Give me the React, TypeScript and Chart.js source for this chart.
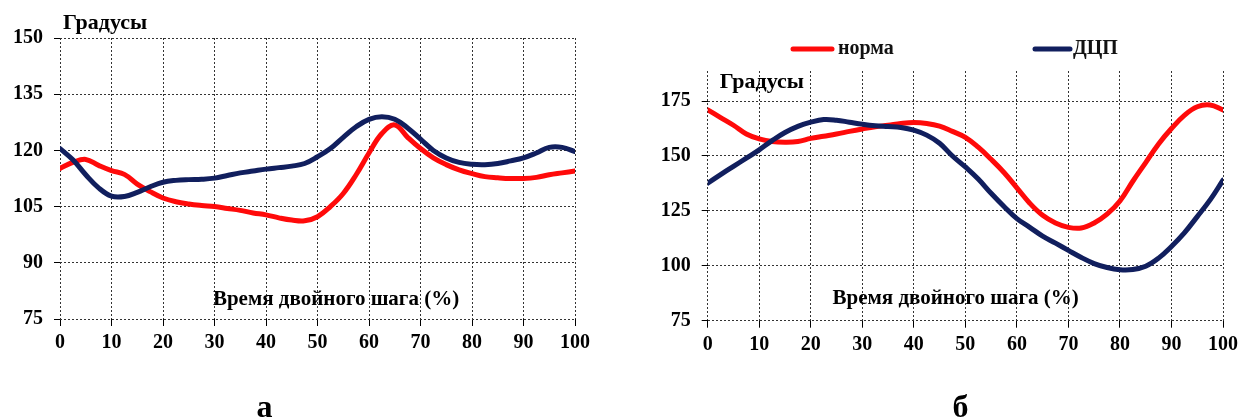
import React, { useEffect, useRef } from "react";
import { Chart, registerables } from "chart.js";

Chart.register(...registerables);

// ---------- data ----------
const xPercent = [
  0, 2.5, 5, 7.5, 10, 12.5, 15, 17.5, 20, 22.5, 25, 27.5, 30, 32.5, 35, 37.5, 40, 42.5, 45, 47.5,
  50, 52.5, 55, 57.5, 60, 62.5, 65, 67.5, 70, 72.5, 75, 77.5, 80, 82.5, 85, 87.5, 90, 92.5, 95, 97.5, 100,
];

// panel а
const normaA = [
  115.2, 116.8, 117.6, 116.0, 114.6, 113.6, 111.0, 109.0, 107.3, 106.3, 105.7, 105.3, 105.0, 104.5, 104.0,
  103.3, 102.8, 102.0, 101.4, 101.2, 102.3, 105.0, 108.5, 113.5, 119.3, 124.5, 126.8, 123.5, 120.5, 118.0,
  116.2, 114.8, 113.8, 113.0, 112.7, 112.5, 112.5, 112.8, 113.5, 114.0, 114.5,
];
const dcpA = [
  120.5, 117.5, 113.5, 110.0, 107.8, 107.7, 108.8, 110.3, 111.5, 112.0, 112.2, 112.3, 112.6, 113.3, 114.0,
  114.5, 115.0, 115.4, 115.8, 116.5, 118.3, 120.5, 123.5, 126.3, 128.3, 129.0, 128.3, 126.0, 123.0, 120.0,
  118.0, 116.8, 116.3, 116.2, 116.5, 117.2, 118.0, 119.3, 120.8, 120.8, 119.7,
];

// panel б
const normaB = [
  171.0, 167.5, 164.0, 160.0, 157.8, 156.6, 156.3, 156.6, 158.0, 159.0, 160.0, 161.2, 162.3, 163.3, 164.0,
  164.8, 165.2, 164.8, 163.6, 161.2, 158.5, 154.0, 148.5, 142.5, 135.5, 128.5, 123.0, 119.5, 117.5, 117.2,
  119.5, 123.5, 129.5, 138.5, 147.0, 155.5, 162.5, 168.5, 172.4, 173.2, 171.0,
];
const dcpB = [
  137.6, 141.5, 145.3, 149.0, 152.8, 157.0, 160.7, 163.5, 165.4, 166.6, 166.3, 165.4, 164.5, 163.8, 163.4,
  163.0, 161.8, 159.5, 155.8, 150.0, 145.0, 139.5, 133.0, 127.0, 121.5, 117.5, 113.5, 110.3, 107.0, 103.8,
  101.0, 99.2, 98.2, 98.3, 99.8, 103.5, 108.8, 115.0, 122.4, 130.0, 139.0,
];

const xTicks = [0, 10, 20, 30, 40, 50, 60, 70, 80, 90, 100];
const yTicksA = [75, 90, 105, 120, 135, 150];
const yTicksB = [75, 100, 125, 150, 175];

const seriesLabels = ["норма", "ДЦП"];
const yAxisTitle = "Градусы";
const xAxisTitle = "Время двойного шага (%)";
const panelLabels = ["а", "б"];

// ---------- styling ----------
const RED = "#ff0a0a";
const BLUE = "#111f5e";
const FONT = "'Liberation Serif', 'Times New Roman', serif";

const textPlugin = {
  id: "panelText",
  afterDraw(chart: any, _args: any, opts: any) {
    const ctx = chart.ctx;
    const area = chart.chartArea;
    const xs = chart.scales.x;
    const ys = chart.scales.y;
    ctx.save();
    ctx.fillStyle = "#000";
    for (const t of opts.items || []) {
      ctx.font = t.font;
      ctx.textAlign = t.align || "left";
      ctx.textBaseline = t.baseline || "middle";
      let px: number, py: number;
      if (t.dataX !== undefined) {
        px = xs.getPixelForValue(t.dataX);
        py = ys.getPixelForValue(t.dataY);
      } else if (t.relLeft !== undefined) {
        px = area.left + t.relLeft;
        py = area.top + t.relTop;
      } else {
        px = t.px;
        py = t.py;
      }
      ctx.fillText(t.text, px, py);
    }
    if (opts.legend) {
      const lg = opts.legend;
      chart.data.datasets.forEach((ds: any, i: number) => {
        const x0 = lg.xs[i];
        const len = lg.lineLens[i];
        ctx.strokeStyle = ds.borderColor;
        ctx.lineWidth = 5;
        ctx.lineCap = "round";
        ctx.beginPath();
        ctx.moveTo(x0, lg.y);
        ctx.lineTo(x0 + len, lg.y);
        ctx.stroke();
        ctx.font = lg.font;
        ctx.textAlign = "left";
        ctx.textBaseline = "middle";
        ctx.fillStyle = "#111";
        ctx.fillText(ds.label, x0 + len + lg.gaps[i], lg.y);
      });
    }
    ctx.restore();
  },
};

function makeConfig(panel: "a" | "b"): any {
  const isA = panel === "a";
  const norma = isA ? normaA : normaB;
  const dcp = isA ? dcpA : dcpB;
  const yTicks = isA ? yTicksA : yTicksB;
  const tickFont = { family: FONT, weight: "bold", size: 20 };
  const items: any[] = [
    isA
      ? { text: yAxisTitle, font: `bold 22px ${FONT}`, relLeft: 3, relTop: -15 }
      : { text: yAxisTitle, font: `bold 22px ${FONT}`, relLeft: 12, relTop: 11 },
    isA
      ? { text: xAxisTitle, font: `bold 21px ${FONT}`, align: "center", dataX: 53.6, dataY: 80.3 }
      : { text: xAxisTitle, font: `bold 21px ${FONT}`, align: "center", dataX: 48.1, dataY: 85.3 },
    isA
      ? { text: panelLabels[0], font: `bold 32px ${FONT}`, align: "center", baseline: "alphabetic", px: 264.5, py: 417 }
      : { text: panelLabels[1], font: `bold 32px ${FONT}`, align: "center", baseline: "alphabetic", px: 340.5, py: 417 },
  ];
  return {
    type: "line",
    data: {
      datasets: [
        {
          label: seriesLabels[0],
          data: xPercent.map((x, i) => ({ x, y: norma[i] })),
          borderColor: RED,
          borderWidth: 5,
          pointRadius: 0,
          tension: 0.4,
          fill: false,
          order: 1,
          borderCapStyle: "round",
          borderJoinStyle: "round",
        },
        {
          label: seriesLabels[1],
          data: xPercent.map((x, i) => ({ x, y: dcp[i] })),
          borderColor: BLUE,
          borderWidth: 5,
          pointRadius: 0,
          tension: 0.4,
          fill: false,
          order: 0,
          borderCapStyle: "round",
          borderJoinStyle: "round",
        },
      ],
    },
    plugins: [textPlugin],
    options: {
      animation: false,
      responsive: false,
      maintainAspectRatio: false,
      layout: {
        padding: isA
          ? { left: 0, top: 38, right: 45, bottom: 60 }
          : { left: 0, top: 71, right: 17, bottom: 58.3 },
      },
      plugins: {
        legend: { display: false },
        tooltip: { enabled: false },
        panelText: {
          items,
          legend: isA
            ? null
            : { xs: [173, 415], lineLens: [39, 35], gaps: [6, 3], y: 49, font: `bold 20px ${FONT}` },
        },
      },
      scales: {
        x: {
          type: "linear",
          min: 0,
          max: 100,
          afterBuildTicks: (s: any) => {
            s.ticks = xTicks.map((v) => ({ value: v }));
          },
          afterFit: (s: any) => {
            s.height = 40;
          },
          ticks: { font: tickFont, color: "#000", padding: 5, maxRotation: 0 },
          grid: {
            color: "#333",
            lineWidth: 1,
            tickLength: 7,
            tickColor: "#000",
            tickBorderDash: [],
          },
          border: { display: false, dash: [2, 2] },
        },
        y: {
          type: "linear",
          min: 75,
          max: isA ? 150 : 188.7,
          afterBuildTicks: (s: any) => {
            s.ticks = yTicks.map((v) => ({ value: v }));
          },
          afterFit: (s: any) => {
            s.width = isA ? 60 : 87.7;
          },
          ticks: { font: tickFont, color: "#000", padding: 11 },
          grid: {
            color: "#333",
            lineWidth: 1,
            tickLength: 6,
            tickColor: "#000",
            tickBorderDash: [],
          },
          border: { display: false, dash: [2, 2] },
        },
      },
    },
  };
}

function Panel({ panel, left, width }: { panel: "a" | "b"; left: number; width: number }) {
  const ref = useRef<HTMLCanvasElement | null>(null);
  useEffect(() => {
    if (!ref.current) return;
    const chart = new Chart(ref.current, makeConfig(panel));
    return () => chart.destroy();
  }, [panel]);
  return (
    <canvas
      ref={ref}
      width={width}
      height={419}
      style={{ position: "absolute", left, top: 0, width, height: 419 }}
    />
  );
}

export default function App() {
  return (
    <div style={{ position: "absolute", left: 0, top: 0, width: 1243, height: 419, background: "#fff" }}>
      <Panel panel="a" left={0} width={620} />
      <Panel panel="b" left={620} width={623} />
    </div>
  );
}
